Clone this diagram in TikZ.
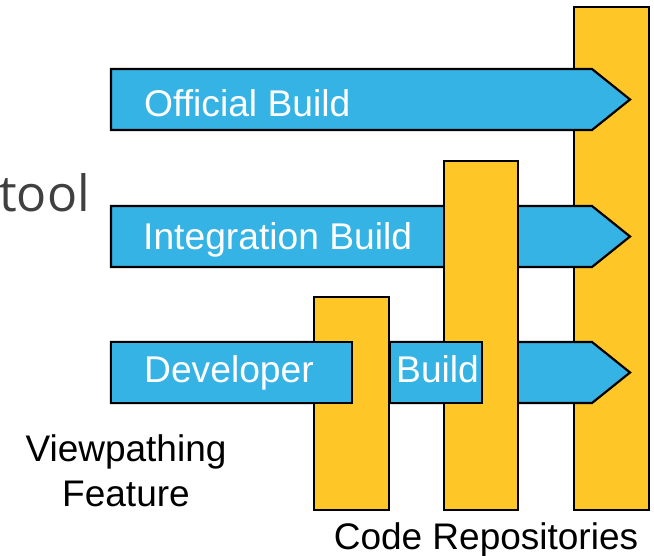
\documentclass[tikz,border=0pt]{standalone}
\usepackage{fontspec}
\setmainfont{Liberation Sans}
\newfontfamily\toolfont{Open Sans}
\definecolor{buildblue}{RGB}{53,179,228}
\definecolor{repoyellow}{RGB}{254,198,38}
\definecolor{toolgray}{RGB}{64,64,64}
\begin{document}
\begin{tikzpicture}[x=1pt,y=-1pt,
  outline/.style={draw=black,line width=2.2pt,line join=miter},
  repo/.style={outline,fill=repoyellow},
  pipe/.style={outline,fill=buildblue},
  label/.style={text=white,font=\fontsize{37.2}{44}\selectfont,inner sep=0pt,anchor=base west},
  caption/.style={text=black,font=\fontsize{37}{45}\selectfont,inner sep=0pt,align=center}]
\clip (0,0) rectangle (654,556);
\fill[white] (0,0) rectangle (654,556);

% repository bars and build pipelines, back to front
\path[repo] (574,7) rectangle (649,510);
\path[pipe] (111,69) -- (592,69) -- (630,99.5) -- (592,130) -- (111,130) -- cycle;
\path[pipe] (111,206) -- (592,206) -- (630,236.5) -- (592,267) -- (111,267) -- cycle;
\path[pipe] (111,342) -- (592,342) -- (630,372.5) -- (592,403) -- (111,403) -- cycle;
\path[repo] (444,161) rectangle (518,510);
\path[repo] (314,297) rectangle (389,510);
\path[pipe] (390,342) rectangle (482,403);
\path[pipe] (111,342) rectangle (352,403);

% pipeline labels
\node[label] (official) at (144,117) {Official Build};
\node[label] (integration) at (143,250) {Integration Build};
\node[label] (developer) at (144,383) {Developer};
\node[label] (build) at (396,383) {Build};

% captions
\node[caption] (feature) at (126,471) {Viewpathing\\Feature};
\node[caption,anchor=base] (repos) at (486,549) {Code Repositories};
\node[text=toolgray,font=\toolfont\fontsize{50}{56}\selectfont,inner sep=0pt,anchor=base west] (tool) at (-1,212) {tool};
\end{tikzpicture}
\end{document}
